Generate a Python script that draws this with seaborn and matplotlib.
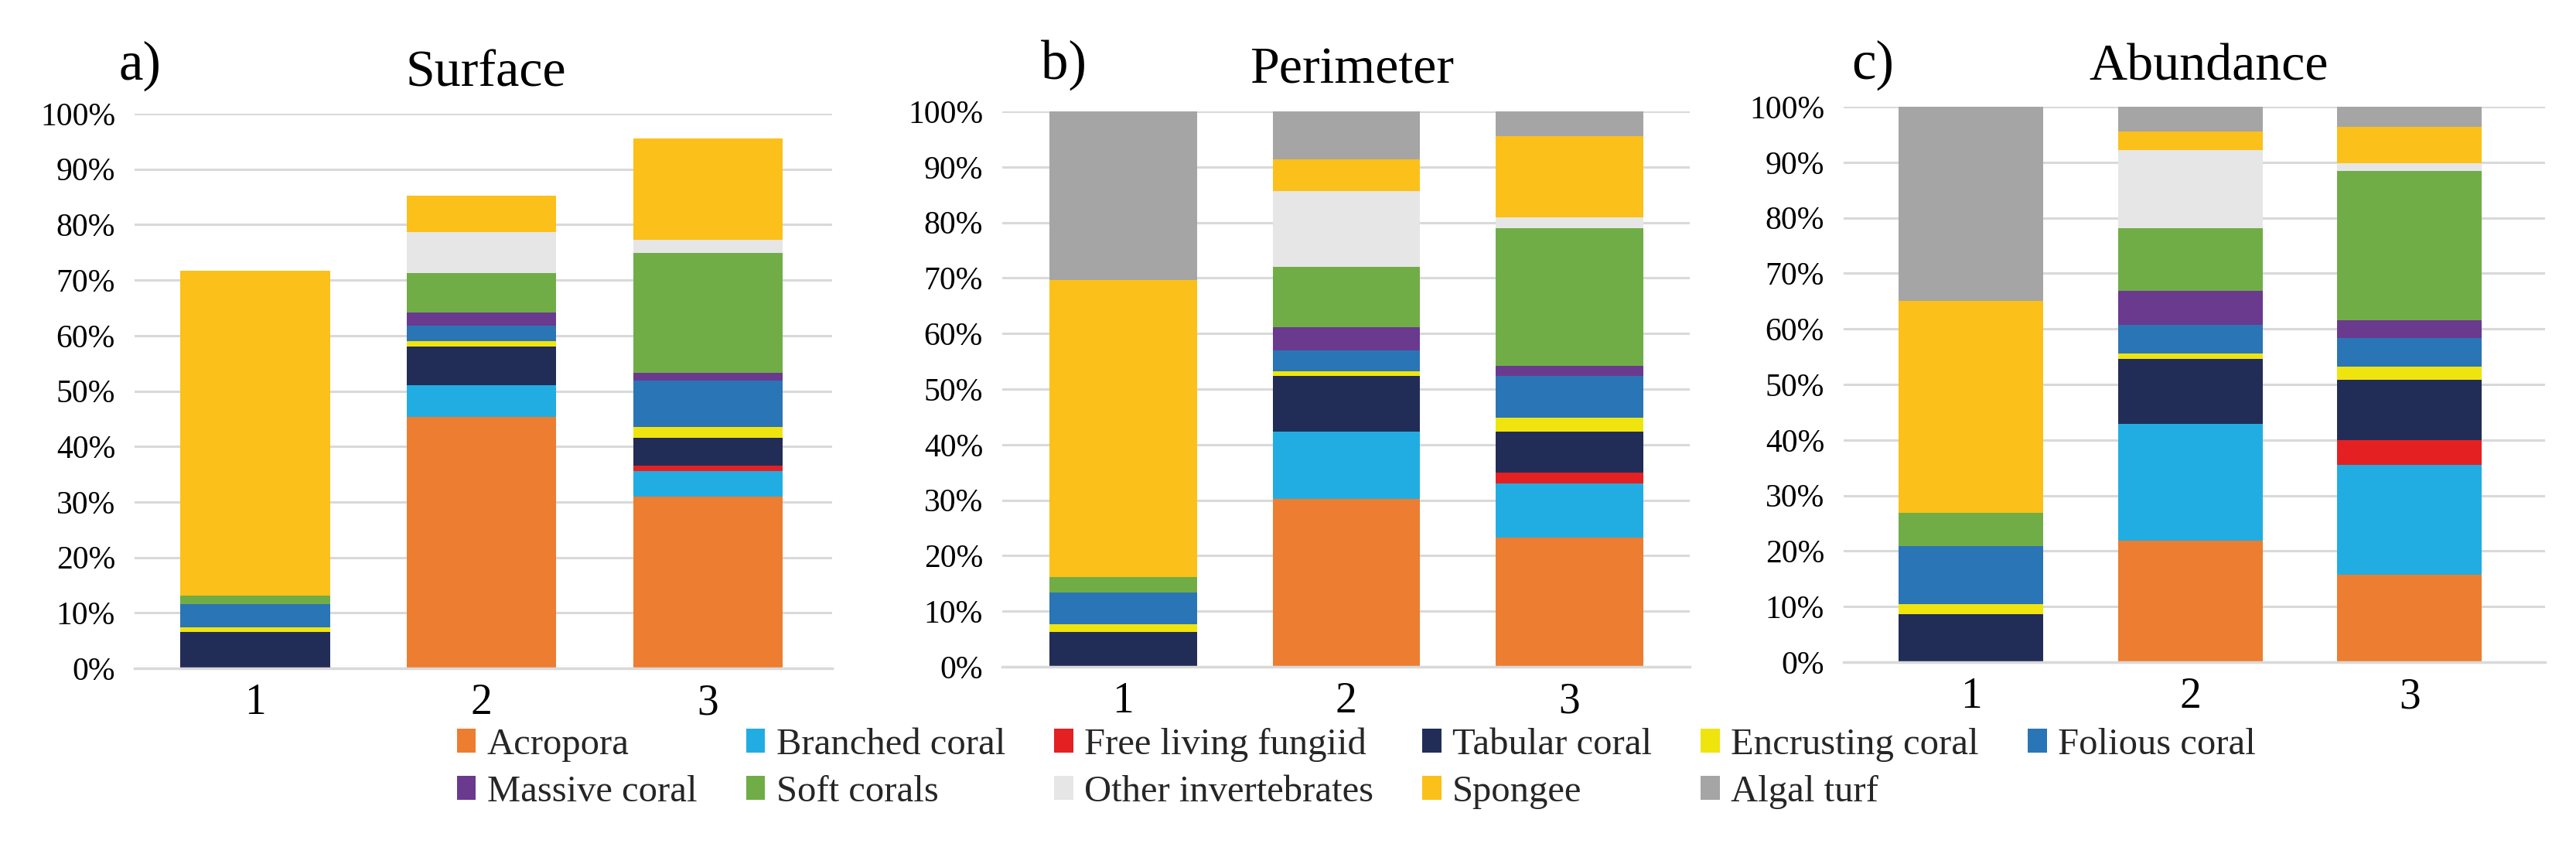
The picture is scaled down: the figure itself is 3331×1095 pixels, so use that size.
import numpy as np
import pandas as pd
import matplotlib
matplotlib.use("Agg")
import matplotlib.pyplot as plt
from matplotlib.patches import Patch
from matplotlib import font_manager
import seaborn as sns

# ---------------- data ----------------
sites = [1, 2, 3]
site_labels = ["1", "2", "3"]
ytick_values = [0, 10, 20, 30, 40, 50, 60, 70, 80, 90, 100]
ytick_labels = ["0%", "10%", "20%", "30%", "40%", "50%", "60%", "70%", "80%", "90%", "100%"]

categories = ["Acropora", "Branched coral", "Free living fungiid", "Tabular coral",
              "Encrusting coral", "Folious coral", "Massive coral", "Soft corals",
              "Other invertebrates", "Spongee", "Algal turf"]
colors = ["#ED7D31", "#22ADE2", "#E42022", "#222D57", "#F0E40E", "#2A75B6",
          "#6A3A8E", "#70AD47", "#E6E6E6", "#FBC01A", "#A5A5A5"]

panel_titles = ["Surface", "Perimeter", "Abundance"]
panel_letters = ["a)", "b)", "c)"]

# values (%) for sites 1, 2, 3
surface = {
    "Acropora":            [0.0, 45.3, 30.9],
    "Branched coral":      [0.0, 5.7, 4.6],
    "Free living fungiid": [0.0, 0.0, 1.0],
    "Tabular coral":       [6.5, 7.0, 5.0],
    "Encrusting coral":    [0.9, 1.0, 2.0],
    "Folious coral":       [4.2, 2.8, 8.4],
    "Massive coral":       [0.0, 2.3, 1.4],
    "Soft corals":         [1.5, 7.1, 21.6],
    "Other invertebrates": [0.0, 7.4, 2.3],
    "Spongee":             [58.6, 6.6, 18.3],
    "Algal turf":          [0.0, 0.0, 0.0],
}
perimeter = {
    "Acropora":            [0.0, 30.2, 23.2],
    "Branched coral":      [0.0, 12.2, 9.8],
    "Free living fungiid": [0.0, 0.0, 1.9],
    "Tabular coral":       [6.3, 9.9, 7.5],
    "Encrusting coral":    [1.4, 0.9, 2.4],
    "Folious coral":       [5.7, 3.8, 7.5],
    "Massive coral":       [0.0, 4.2, 1.9],
    "Soft corals":         [2.8, 10.8, 24.8],
    "Other invertebrates": [0.0, 13.6, 1.9],
    "Spongee":             [53.5, 5.7, 14.6],
    "Algal turf":          [30.3, 8.7, 4.5],
}
abundance = {
    "Acropora":            [0.0, 21.8, 15.8],
    "Branched coral":      [0.0, 21.1, 19.7],
    "Free living fungiid": [0.0, 0.0, 4.5],
    "Tabular coral":       [8.6, 11.7, 10.8],
    "Encrusting coral":    [1.9, 1.0, 2.4],
    "Folious coral":       [10.4, 5.1, 5.2],
    "Massive coral":       [0.0, 6.1, 3.2],
    "Soft corals":         [6.0, 11.3, 26.8],
    "Other invertebrates": [0.0, 14.1, 1.4],
    "Spongee":             [38.1, 3.3, 6.6],
    "Algal turf":          [35.0, 4.5, 3.6],
}
panels = [surface, perimeter, abundance]

# ---------------- style ----------------
sns.set_theme(style="white")
# make sure the serif family really exists (raises if it does not)
font_manager.findfont("Liberation Serif", fallback_to_default=False)
plt.rcParams["font.family"] = ["Liberation Serif", "DejaVu Serif"]

W, H = 3331, 1095
fig = plt.figure(figsize=(W / 100, H / 100), dpi=100)

# axes boxes in pixels: left, right, top(100%), bottom(0%)
boxes = [(174, 1076, 147, 864), (1296, 2185, 144, 862), (2384, 3291, 138, 856)]
xlims = [(0.467, 3.549), (0.458, 3.539), (0.419, 3.618)]
title_pos = [(628, 112), (1748, 108), (2856, 103)]
letter_pos = [(153, 103), (1346, 102), (2394, 102)]

palette = dict(zip(categories, colors))
grid_col = "#D9D9D9"

for i, data in enumerate(panels):
    l, r, t, b = boxes[i]
    ax = fig.add_axes([l / W, 1 - b / H, (r - l) / W, (b - t) / H])
    rows = []
    for cat in categories:
        for s, v in zip(sites, data[cat]):
            rows.append({"site": s, "category": cat, "value": v})
    df = pd.DataFrame(rows)
    sns.histplot(data=df, x="site", weights="value", hue="category",
                 hue_order=categories[::-1], multiple="stack", discrete=True,
                 shrink=0.66, palette=palette, alpha=1, linewidth=0,
                 legend=False, ax=ax)
    ax.set_xlim(*xlims[i])
    ax.set_ylim(0, 100)
    ax.set_yticks(ytick_values)
    ax.set_yticklabels(ytick_labels)
    ax.set_xticks(sites)
    ax.set_xticklabels(site_labels)
    ax.set_xlabel("")
    ax.set_ylabel("")
    ax.yaxis.grid(True, color=grid_col, linewidth=2.2)
    ax.xaxis.grid(False)
    ax.set_axisbelow(True)
    for side in ["top", "left", "right"]:
        ax.spines[side].set_visible(False)
    ax.spines["bottom"].set_color(grid_col)
    ax.spines["bottom"].set_linewidth(2.5)
    ax.tick_params(axis="y", length=0, pad=18, labelsize=30, colors="black")
    ax.tick_params(axis="x", length=0, pad=14, labelsize=40, colors="black")
    ax.set_facecolor("white")

    tx, ty = title_pos[i]
    fig.text(tx / W, 1 - ty / H, panel_titles[i], ha="center", va="baseline",
             fontsize=49, color="black")
    lx, ly = letter_pos[i]
    fig.text(lx / W, 1 - ly / H, panel_letters[i], ha="left", va="baseline",
             fontsize=51, color="black")

# legend: row 1 = first six categories, row 2 = remaining five
order = [0, 6, 1, 7, 2, 8, 3, 9, 4, 10, 5]
handles = [Patch(facecolor=colors[k], edgecolor="none") for k in order]
labels = [categories[k] for k in order]
fig.legend(handles, labels, ncol=6, loc="center",
           bbox_to_anchor=(1754 / W, 1 - 993 / H), frameon=False,
           fontsize=35, handlelength=0.5, handleheight=0.6,
           handletextpad=0.3, columnspacing=1.3, labelspacing=0.35,
           borderpad=0, borderaxespad=0)

fig.savefig("out.png", dpi=100, facecolor="white")
